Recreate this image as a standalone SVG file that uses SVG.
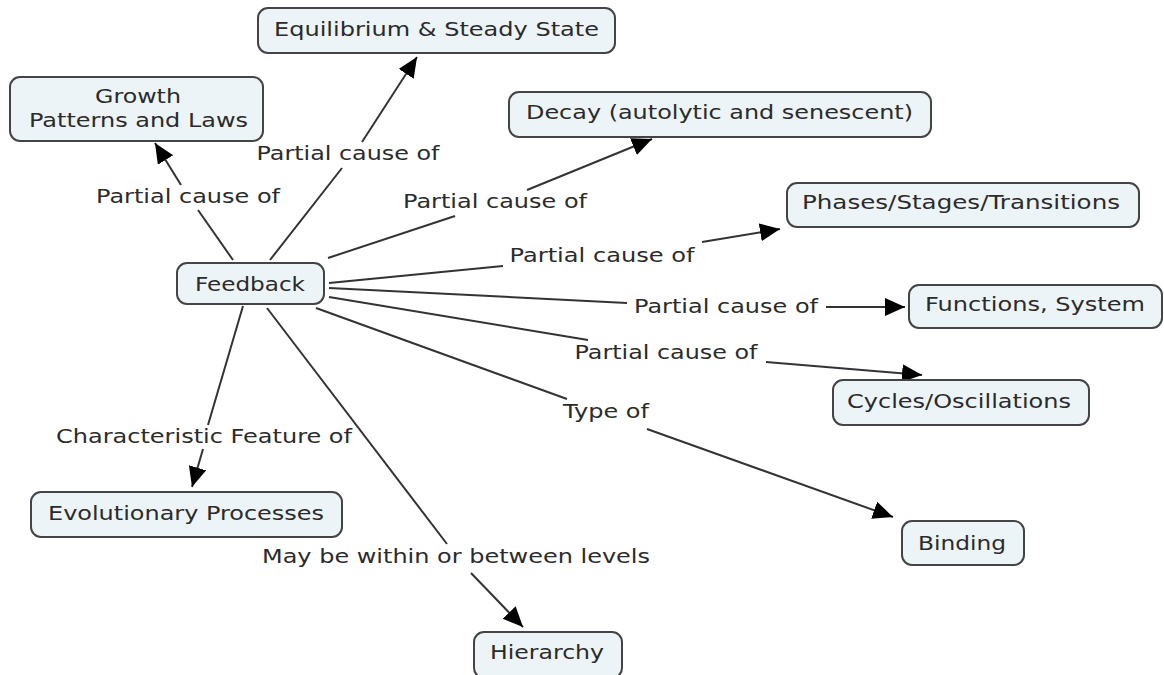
<svg xmlns="http://www.w3.org/2000/svg" width="1164" height="675" viewBox="0 0 1164 675">
<style>
.box{fill:#edf4f8;stroke:#444;stroke-width:2}
text{font-family:"DejaVu Sans","Verdana",sans-serif;font-size:20px;fill:#2b2b2b;text-anchor:middle}
.ln{stroke:#333;stroke-width:2;fill:none}
.ar{stroke:#333;stroke-width:2;fill:none;marker-end:url(#ah)}
</style>
<defs>
<marker id="ah" markerUnits="userSpaceOnUse" markerWidth="22" markerHeight="20" refX="20" refY="9" orient="auto">
<path d="M0,0 L20,9 L0,18 z" fill="#000"/>
</marker>
</defs>
<rect width="1164" height="675" fill="#fff"/>
<g id="connectors">
<line class="ln" x1="233" y1="260" x2="198" y2="210"/>
<line class="ar" x1="181" y1="185" x2="155" y2="143"/>
<line class="ln" x1="270" y1="260" x2="342" y2="168"/>
<line class="ar" x1="362" y1="142" x2="417" y2="57"/>
<line class="ln" x1="328" y1="258" x2="455" y2="216"/>
<line class="ar" x1="527" y1="190" x2="652" y2="139"/>
<line class="ln" x1="329" y1="283" x2="503" y2="266"/>
<line class="ar" x1="702" y1="242" x2="780" y2="229"/>
<line class="ln" x1="329" y1="288" x2="627" y2="303"/>
<line class="ar" x1="826" y1="307" x2="905" y2="307"/>
<line class="ln" x1="329" y1="297" x2="588" y2="340"/>
<line class="ar" x1="766" y1="362" x2="922" y2="375"/>
<line class="ln" x1="316" y1="308" x2="567" y2="399"/>
<line class="ar" x1="647" y1="429" x2="893" y2="517"/>
<line class="ln" x1="243" y1="306" x2="208" y2="425"/>
<line class="ar" x1="203" y1="449" x2="192" y2="487"/>
<line class="ln" x1="267" y1="308" x2="447" y2="544"/>
<line class="ar" x1="471" y1="573" x2="523" y2="627"/>
<g id="link-labels">
<text x="188" y="203" textLength="184" lengthAdjust="spacingAndGlyphs">Partial cause of</text>
<text x="348" y="160" textLength="183" lengthAdjust="spacingAndGlyphs">Partial cause of</text>
<text x="495" y="208" textLength="184" lengthAdjust="spacingAndGlyphs">Partial cause of</text>
<text x="602" y="262" textLength="185" lengthAdjust="spacingAndGlyphs">Partial cause of</text>
<text x="726" y="313" textLength="184" lengthAdjust="spacingAndGlyphs">Partial cause of</text>
<text x="666" y="359" textLength="183" lengthAdjust="spacingAndGlyphs">Partial cause of</text>
<text x="606" y="418" textLength="86" lengthAdjust="spacingAndGlyphs">Type of</text>
<text x="204" y="443" textLength="296" lengthAdjust="spacingAndGlyphs">Characteristic Feature of</text>
<text x="456" y="563" textLength="388" lengthAdjust="spacingAndGlyphs">May be within or between levels</text>
</g>
</g>
<g id="node-equilibrium">
<rect class="box" x="258" y="8" width="357" height="45" rx="10"/>
<text x="436.5" y="36" textLength="325" lengthAdjust="spacingAndGlyphs">Equilibrium &amp; Steady State</text>
</g>
<g id="node-growth">
<rect class="box" x="10" y="77" width="253" height="64" rx="10"/>
<text x="138" y="103" textLength="86" lengthAdjust="spacingAndGlyphs">Growth</text>
<text x="138.5" y="127" textLength="219" lengthAdjust="spacingAndGlyphs">Patterns and Laws</text>
</g>
<g id="node-decay">
<rect class="box" x="509" y="92" width="422" height="45" rx="10"/>
<text x="719.5" y="119" textLength="387" lengthAdjust="spacingAndGlyphs">Decay (autolytic and senescent)</text>
</g>
<g id="node-phases">
<rect class="box" x="787" y="183" width="352" height="44" rx="10"/>
<text x="961" y="209" textLength="318" lengthAdjust="spacingAndGlyphs">Phases/Stages/Transitions</text>
</g>
<g id="node-functions">
<rect class="box" x="909" y="285" width="253" height="43" rx="10"/>
<text x="1035" y="311" textLength="220" lengthAdjust="spacingAndGlyphs">Functions, System</text>
</g>
<g id="node-cycles">
<rect class="box" x="833" y="380" width="256" height="45" rx="10"/>
<text x="959" y="408" textLength="224" lengthAdjust="spacingAndGlyphs">Cycles/Oscillations</text>
</g>
<g id="node-binding">
<rect class="box" x="902" y="521" width="122" height="44" rx="10"/>
<text x="962" y="550" textLength="88" lengthAdjust="spacingAndGlyphs">Binding</text>
</g>
<g id="node-hierarchy">
<rect class="box" x="474" y="632" width="148" height="46" rx="10"/>
<text x="547" y="659" textLength="114" lengthAdjust="spacingAndGlyphs">Hierarchy</text>
</g>
<g id="node-evolutionary">
<rect class="box" x="31" y="492" width="311" height="45" rx="10"/>
<text x="186" y="520" textLength="276" lengthAdjust="spacingAndGlyphs">Evolutionary Processes</text>
</g>
<g id="node-feedback">
<rect class="box" x="177" y="263" width="147" height="41" rx="10"/>
<text x="250" y="291" textLength="110" lengthAdjust="spacingAndGlyphs">Feedback</text>
</g>
</svg>
